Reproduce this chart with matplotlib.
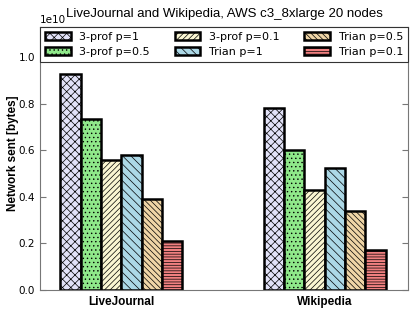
import matplotlib
matplotlib.use('Agg')
import matplotlib.pyplot as plt
import numpy as np

# data (values in 1e10 bytes)
groups = ['LiveJournal', 'Wikipedia']
series = ['3-prof p=1', '3-prof p=0.5', '3-prof p=0.1', 'Trian p=1', 'Trian p=0.5', 'Trian p=0.1']
prof_1 = [0.927, 0.781]
prof_05 = [0.735, 0.601]
prof_01 = [0.559, 0.428]
trian_1 = [0.581, 0.524]
trian_05 = [0.392, 0.338]
trian_01 = [0.212, 0.170]
values = [prof_1, prof_05, prof_01, trian_1, trian_05, trian_01]

colors = ['#e2e2f8', '#8fe88a', '#faf6d2', '#acd8e6', '#efd5a6', '#f08080']
hatches = ['xxxx', '....', '//////', '\\\\\\\\', '\\\\\\\\\\\\', '------']

plt.rcParams['hatch.color'] = '#9a9a9a'
plt.rcParams['hatch.linewidth'] = 0.5

fig = plt.figure(figsize=(4.15, 3.12), dpi=100)
ax = fig.add_axes([0.0964, 0.0705, 0.8866, 0.8425])

ind = np.arange(len(groups))
width = 0.1
for i in range(len(series)):
    ax.bar(ind + (i - 2.5) * width, np.array(values[i]) * 1e10, width,
           color=colors[i], hatch=hatches[i], edgecolor='black', linewidth=1.8,
           label=series[i])

ax.set_xlim(-0.40, 1.41)
ax.set_ylim(0, 1.13e10)
ax.set_yticks(np.arange(0, 1.01, 0.2) * 1e10)
ax.set_xticks(ind)
ax.set_xticklabels(groups, fontweight='bold', family='Liberation Sans', fontsize=8.5)
ax.tick_params(axis='x', length=0, pad=4)
ax.tick_params(axis='y', direction='in', right=True, labelsize=7.5, length=4, color='#777777')
for s in ax.spines.values():
    s.set_color('#777777')
ax.yaxis.get_offset_text().set_fontsize(7.5)

ax.set_ylabel('Network sent [bytes]', fontweight='bold', family='Liberation Sans',
              fontsize=8.5)
ax.yaxis.set_label_coords(-0.056, 0.52)
ax.set_title('LiveJournal and Wikipedia, AWS c3_8xlarge 20 nodes',
             family='Liberation Sans', fontsize=9.5, y=1.0, pad=7)

leg = ax.legend(loc='upper left', bbox_to_anchor=(0, 1, 1, 0), mode='expand', ncol=3,
                borderaxespad=0, fontsize=8, handlelength=2.3, handleheight=0.7,
                labelspacing=0.45, borderpad=0.45, fancybox=False, framealpha=1)
leg.get_frame().set_edgecolor('#333333')
leg.get_frame().set_linewidth(0.8)

fig.savefig('out.png', dpi=100)
